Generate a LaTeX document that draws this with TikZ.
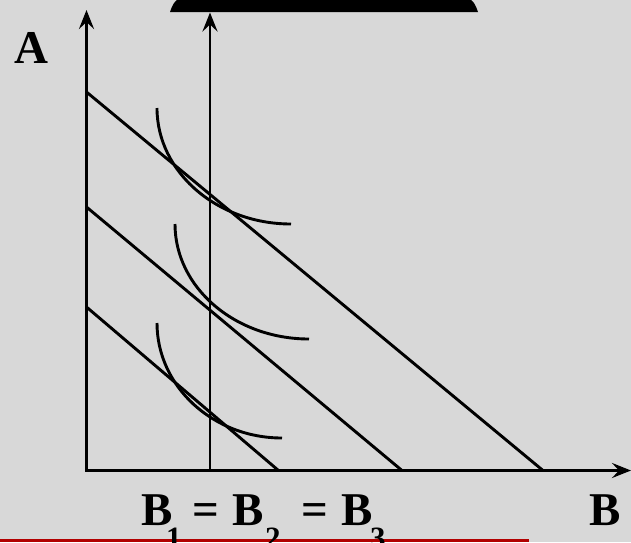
\documentclass[tikz,border=0pt]{standalone}
\usepackage{fontspec}
\setmainfont{Liberation Serif}
\usetikzlibrary{arrows.meta}
\definecolor{bgc}{RGB}{216,216,216}
\definecolor{barred}{RGB}{178,0,0}
\tikzset{
  axis/.style={line width=2.9pt,-{Stealth[length=19pt,width=15pt,inset=7pt]}},
  budget/.style={line width=2.9pt},
  icurve/.style={line width=2.9pt},
  big/.style={font=\bfseries\fontsize{47}{47}\selectfont,inner sep=0pt,anchor=base west},
  sub/.style={font=\bfseries\fontsize{31}{31}\selectfont,inner sep=0pt,anchor=base west}
}
\begin{document}
\begin{tikzpicture}[x=1pt,y=-1pt]
\useasboundingbox (0,0) rectangle (631,542);
\fill[bgc] (0,0) rectangle (631,542);
% top black shape
\fill[black] (170,12) .. controls (172,6) and (174,2) .. (177,0) -- (471,0) .. controls (474,2) and (476,6) .. (478,12) -- cycle;
% red bar
\fill[barred] (0,539) rectangle (529,542);
% coordinates
\coordinate (O) at (86.5,470.5);
\coordinate (Atop) at (86.5,10);
\coordinate (Bend) at (631,470.5);
\coordinate (Ostart) at (85,470.5);
\coordinate (Vb) at (210,470.5);
\coordinate (Vt) at (210,12.5);
\coordinate (L1a) at (86.5,92);
\coordinate (L1b) at (543,470.5);
\coordinate (L2a) at (86.5,207);
\coordinate (L2b) at (402,470.5);
\coordinate (L3a) at (86.5,307);
\coordinate (L3b) at (278.5,470.5);
\coordinate (I1a) at (157,108);
\coordinate (I1b) at (291,224);
\coordinate (I2a) at (175,224);
\coordinate (I2b) at (309,339);
\coordinate (I3a) at (157,323);
\coordinate (I3b) at (282,438);
% axes
\draw[axis] (O) -- (Atop);
\draw[axis] (Ostart) -- (Bend);
\draw[axis] (Vb) -- (Vt);
% budget lines
\draw[budget] (L1a) -- (L1b);
\draw[budget] (L2a) -- (L2b);
\draw[budget] (L3a) -- (L3b);
% indifference curves
\draw[icurve] (I1a) .. controls (157,172) and (217,224) .. (I1b);
\draw[icurve] (I2a) .. controls (175,287.5) and (235,339) .. (I2b);
\draw[icurve] (I3a) .. controls (157,386.5) and (213,438) .. (I3b);
% labels
\node[big] (labA) at (14.5,63.3) {A};
\node[big] (labB) at (589,525) {B};
\node[big] (b1) at (141,525) {B};
\node[sub] (s1) at (166,548) {1};
\node[big] (e1) at (192,525) {=};
\node[big] (b2) at (232.5,525) {B};
\node[sub] (s2) at (265,548) {2};
\node[big] (e2) at (301,525) {=};
\node[big] (b3) at (341,525) {B};
\node[sub] (s3) at (370,548) {3};
\end{tikzpicture}
\end{document}
